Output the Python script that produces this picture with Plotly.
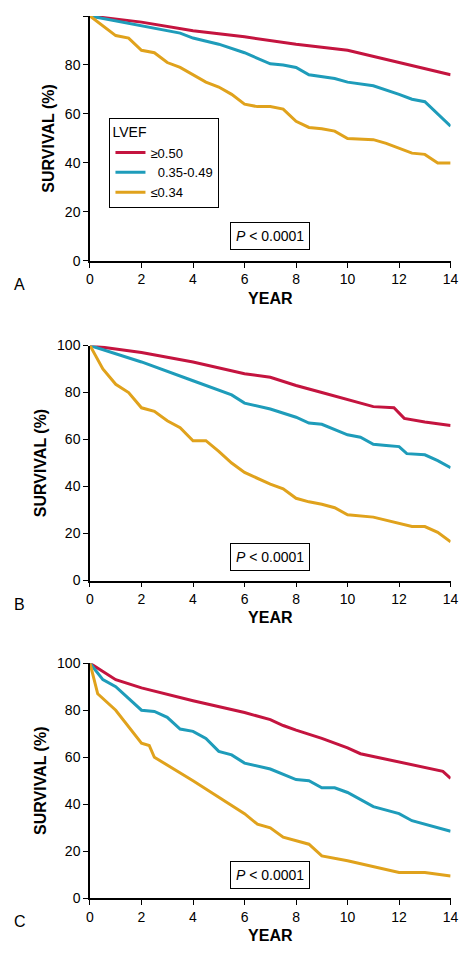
import plotly.graph_objects as go

red, cyan, gold = "#c4143f", "#1e9cba", "#e0a21c"

# Panel A
a_red_x = [0, 2, 4, 6, 8, 10, 12, 14]
a_red_y = [100, 97.5, 94, 91.5, 88.5, 86, 81, 76]
a_cyan_x = [0, 2, 3.5, 4, 5, 6, 7, 7.5, 8, 8.5, 9.5, 10, 11, 12, 12.5, 13, 13.5, 14]
a_cyan_y = [100, 96, 93, 91, 88.5, 85, 80.5, 80, 79, 76, 74.5, 73, 71.5, 68, 66, 65, 60, 55]
a_gold_x = [0, 0.5, 1, 1.5, 2, 2.5, 3, 3.5, 4, 4.5, 5, 5.5, 6, 6.5, 7, 7.5, 8, 8.5, 9, 9.5, 10, 11, 11.5, 12, 12.5, 13, 13.5, 14]
a_gold_y = [100, 96, 92, 91, 86, 85, 81, 79, 76, 73, 71, 68, 64, 63, 63, 62, 57, 54.5, 54, 53, 50, 49.5, 48, 46, 44, 43.5, 40, 40]

# Panel B
b_red_x = [0, 2, 4, 6, 7, 8, 9, 10, 11, 11.8, 12.2, 13, 14]
b_red_y = [100, 97, 93, 88, 86.5, 83, 80, 77, 74, 73.5, 69, 67.5, 66]
b_cyan_x = [0, 2, 4, 5.5, 6, 7, 8, 8.5, 9, 10, 10.5, 11, 11.5, 12, 12.3, 13, 13.5, 14]
b_cyan_y = [100, 93, 85, 79, 75.5, 73, 69.5, 67, 66.5, 62, 61, 58, 57.5, 57, 54, 53.5, 51, 48]
b_gold_x = [0, 0.5, 1, 1.5, 2, 2.5, 3, 3.5, 4, 4.5, 5, 5.5, 6, 7, 7.5, 8, 8.5, 9, 9.5, 10, 11, 12, 12.5, 13, 13.5, 14]
b_gold_y = [100, 90, 83.5, 80, 73.5, 72, 68, 65, 59.5, 59.5, 55, 50, 46, 41, 39, 35, 33.5, 32.5, 31, 28, 27, 24.5, 23, 23, 20.5, 16.5]

# Panel C
c_red_x = [0, 1, 2, 4, 6, 7, 7.5, 8, 9, 10, 10.5, 12, 13, 13.7, 14]
c_red_y = [100, 93, 89.5, 84, 79, 76, 73.5, 71.5, 68, 64, 61.5, 58, 55.5, 54, 51]
c_cyan_x = [0, 0.5, 1, 2, 2.5, 3, 3.5, 4, 4.5, 5, 5.5, 6, 7, 8, 8.5, 9, 9.5, 10, 11, 12, 12.5, 14]
c_cyan_y = [100, 93, 90, 80, 79.5, 77, 72, 71, 68, 62.5, 61, 57.5, 55, 50.5, 50, 47, 47, 45, 39, 36, 33, 28.5]
c_gold_x = [0, 0.3, 1, 2, 2.3, 2.5, 4, 6, 6.5, 7, 7.5, 8, 8.5, 9, 10, 12, 13, 14]
c_gold_y = [100, 87, 80, 66, 65, 60, 50, 36, 31.5, 30, 26, 24.5, 23, 18, 16, 11, 11, 9.5]

legend_names = ["\u22650.50", "  0.35-0.49", "\u22640.34"]
panels = [
    ("A", [(a_red_x, a_red_y), (a_cyan_x, a_cyan_y), (a_gold_x, a_gold_y)], 0, 249),
    ("B", [(b_red_x, b_red_y), (b_cyan_x, b_cyan_y), (b_gold_x, b_gold_y)], 335, 574),
    ("C", [(c_red_x, c_red_y), (c_cyan_x, c_cyan_y), (c_gold_x, c_gold_y)], 658, 897),
]

H, W = 975, 474
x0, x1 = 80 / W, 450 / W
fig = go.Figure()
annotations = []
layout = {}
for i, (lab, series, top, bot) in enumerate(panels):
    n = "" if i == 0 else str(i + 1)
    for j, ((xs, ys), col) in enumerate(zip(series, [red, cyan, gold])):
        fig.add_trace(go.Scatter(
            x=xs, y=ys, mode="lines", line=dict(color=col, width=3),
            name=legend_names[j], showlegend=(i == 0),
            xaxis="x" + n, yaxis="y" + n,
        ))
    axcommon = dict(showline=True, linecolor="black", linewidth=1.5, ticks="outside",
                    ticklen=5, tickcolor="black", showgrid=False, zeroline=False,
                    tickfont=dict(size=14, color="black", family="Arial"))
    layout["xaxis" + n] = dict(axcommon, domain=[x0, x1], range=[0, 14], dtick=2,
                               anchor="y" + n,
                               title=dict(text="<b>YEAR</b>", font=dict(size=16), standoff=6))
    layout["yaxis" + n] = dict(axcommon, domain=[1 - bot / H, 1 - top / H], range=[0, 100],
                               dtick=20, anchor="x" + n,
                               title=dict(text="<b>SURVIVAL (%)</b>", font=dict(size=16), standoff=6))
    annotations.append(dict(text=lab, x=0, y=1 - (bot + 24) / H, xref="paper", yref="paper",
                            xanchor="left", yanchor="middle", showarrow=False,
                            font=dict(size=16, color="black")))
    annotations.append(dict(text="<i>P</i> < 0.0001", x=7, y=10, xref="x" + n, yref="y" + n,
                            showarrow=False, font=dict(size=14, color="black"),
                            bordercolor="black", borderwidth=1, borderpad=5, bgcolor="white"))

fig.update_layout(
    width=W, height=H, margin=dict(l=0, r=0, t=0, b=0),
    plot_bgcolor="white", paper_bgcolor="white",
    font=dict(family="Arial", color="black"),
    annotations=annotations,
    legend=dict(x=(80 + 20) / W, y=1 - 104 / H, xanchor="left", yanchor="top",
                title=dict(text="LVEF", font=dict(size=14)),
                bordercolor="black", borderwidth=1, font=dict(size=13),
                tracegroupgap=0, itemwidth=30),
    **layout,
)
fig.write_html("out.html")
